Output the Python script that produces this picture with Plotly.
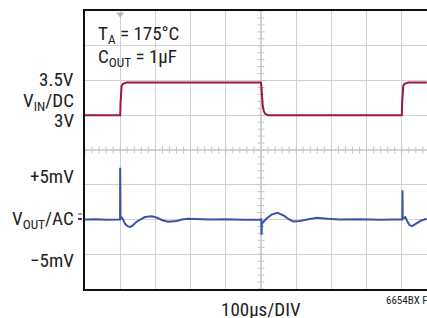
import numpy as np
import plotly.graph_objects as go

# ---- data ----
# VIN/DC trace: time in microseconds, volts
vin_time = [0, 60, 100, 101, 102, 104, 107, 112, 118, 200, 300, 400, 500, 501, 502, 503, 505, 508,
            512, 520, 600, 700, 800, 900, 901, 902, 904, 907, 912, 918, 971]
vin_volts = [3.0, 3.0, 3.0, 3.18, 3.34, 3.42, 3.45, 3.46, 3.47, 3.47, 3.47, 3.47, 3.47, 3.42, 3.34,
             3.25, 3.13, 3.06, 3.02, 3.0, 3.0, 3.0, 3.0, 3.0, 3.18, 3.34, 3.42, 3.45, 3.46, 3.47, 3.47]

# VOUT/AC trace: time in microseconds, millivolts
vout_time = [0, 30, 60, 99.6, 100, 100.4, 101, 104, 108, 115, 122, 128, 135, 145, 157, 170, 190,
             205, 220, 236, 260, 275, 293, 320, 356, 400, 450, 500, 501, 501.5, 502.5, 506, 515,
             530, 547, 565, 580, 592, 610, 635, 658, 690, 724, 780, 840, 880, 901.5, 902, 902.5,
             905, 910, 916, 922, 929, 940, 955, 971]
vout_mv = [0.0, 0.05, -0.05, 0.0, 7.45, 0.3, 0.1, 0.36, 0.0, -0.7, -1.0, -1.08, -0.9, -0.4, 0.0,
           0.35, 0.46, 0.25, -0.1, -0.32, -0.2, 0.0, 0.12, 0.05, 0.0, 0.05, -0.05, 0.0, 0.15,
           -2.2, -0.6, -0.4, 0.1, 0.7, 0.96, 0.55, 0.0, -0.29, -0.2, 0.05, 0.24, 0.1, 0.0, 0.05,
           -0.05, 0.0, 0.0, 4.2, 0.3, 0.2, 0.33, -0.3, -0.8, -0.96, -0.6, -0.15, 0.1]

left_labels = ["3.5V", "V<sub>IN</sub>/DC", "3V", "+5mV", "V<sub>OUT</sub>/AC", "\u22125mV"]
title_lines = ["T<sub>A</sub> = 175\u00b0C", "C<sub>OUT</sub> = 1\u00b5F"]
x_label = "100\u00b5s/DIV"
fig_code = "6654BX F06"
trigger_time = [100]

# ---- layout constants ----
W, H = 427, 318
ML, MR, MT, MB = 85, 0, 11, 29
PW, PH = W - ML - MR, H - MT - MB
FONT = "Liberation Sans Narrow, Arial Narrow, Roboto Condensed, Roboto, sans-serif"
GRID = "#d2d2d2"
RED = "#a0153e"
BLUE = "#3a55a8"

def px_x(x):
    return (x - ML) / PW

def px_y(y):
    return (H - MB - y) / PH

fig = go.Figure()

# graticule minor ticks on the centre lines
hx = np.arange(0, 972, 20)
fig.add_trace(go.Scatter(x=hx, y=[2.5] * len(hx), mode="markers", hoverinfo="skip",
                         marker=dict(symbol="line-ns", size=5, line=dict(width=1, color="#c4c4c4")),
                         showlegend=False))
vy = np.arange(0.5, 4.51, 0.1)
fig.add_trace(go.Scatter(x=[500] * len(vy), y=vy, mode="markers", hoverinfo="skip",
                         marker=dict(symbol="line-ew", size=5, line=dict(width=1, color="#c4c4c4")),
                         showlegend=False))

fig.add_trace(go.Scatter(x=vin_time, y=vin_volts, mode="lines",
                         line=dict(color=RED, width=2), showlegend=False))
fig.add_trace(go.Scatter(x=vout_time, y=vout_mv, mode="lines", yaxis="y2",
                         line=dict(color=BLUE, width=2), showlegend=False))

# trigger marker
fig.add_trace(go.Scatter(x=trigger_time, y=[4.455], mode="markers", cliponaxis=False,
                         hoverinfo="skip", showlegend=False,
                         marker=dict(symbol="triangle-down", size=7, color="#b5b5b5")))

fig.update_layout(
    width=W, height=H,
    margin=dict(l=ML, r=MR, t=MT, b=MB, pad=0),
    paper_bgcolor="white", plot_bgcolor="white",
    font=dict(family=FONT, size=19, color="#222222"),
    xaxis=dict(range=[0, PW / 35.2 * 100], tick0=0, dtick=100, showgrid=True, gridcolor=GRID,
               gridwidth=1.3, showticklabels=False, ticks="", zeroline=False,
               showline=True, linecolor="#111111", linewidth=2, mirror=True),
    yaxis=dict(range=[0.5, 4.5], tick0=0.5, dtick=0.5, showgrid=True, gridcolor=GRID,
               gridwidth=1.3, showticklabels=False, ticks="", zeroline=False,
               showline=True, linecolor="#111111", linewidth=2, mirror=False),
    yaxis2=dict(range=[-10, 30], overlaying="y", showgrid=False, showticklabels=False,
                zeroline=False, showline=False, ticks=""),
)

# white box behind the condition text
fig.add_shape(type="rect", xref="paper", yref="paper", x0=px_x(94), x1=px_x(184),
              y0=px_y(74), y1=px_y(19), fillcolor="white", line=dict(width=0), layer="between")

# channel markers at the left edge
fig.add_shape(type="line", xref="paper", yref="paper", x0=px_x(78), x1=px_x(82),
              y0=px_y(214), y1=px_y(214), line=dict(color="#8fa3d6", width=2))
fig.add_shape(type="line", xref="paper", yref="paper", x0=px_x(78), x1=px_x(82),
              y0=px_y(219), y1=px_y(219), line=dict(color=RED, width=2))

def ann(text, xpx, ypx, xanchor, size=19):
    fig.add_annotation(text=text, xref="paper", yref="paper", x=px_x(xpx), y=px_y(ypx),
                       xanchor=xanchor, yanchor="middle", showarrow=False,
                       font=dict(family=FONT, size=size, color="#222222"))

left_y = [79, 101, 120, 176, 219, 260]
for t, y in zip(left_labels, left_y):
    ann(t, 76, y, "right")

ann(title_lines[0], 96, 34, "left", 19)
ann(title_lines[1], 96, 58, "left", 19)
ann(x_label, 261, 309, "center")
ann(fig_code, 384, 300, "left", 11)

fig.write_html("out.html", config={"displayModeBar": False, "staticPlot": True},
               post_script="document.body.style.margin='0';document.body.style.overflow='hidden';")
